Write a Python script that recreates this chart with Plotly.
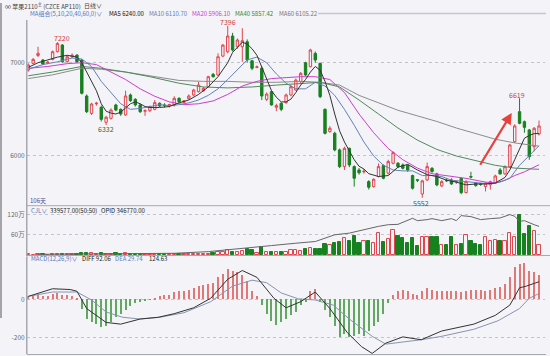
import plotly.graph_objects as go

# ---------------- data ----------------
days = list(range(106))
opens = [6921, 6993, 7078, 7029, 6995, 7036, 7118, 7189, 7011, 7064,
         7082, 7029, 6643, 6457, 6560, 6522, 6361, 6404, 6547, 6500,
         6440, 6654, 6607, 6547, 6480, 6486, 6500, 6565, 6547, 6540,
         6547, 6618, 6575, 6614, 6654, 6690, 6700, 6743, 6875, 6868,
         7071, 7118, 7286, 7171, 7171, 7225, 7021, 6950, 6940, 6607,
         6690, 6522, 6565, 6572, 6654, 6707, 6796, 7000, 6957, 7100,
         6993, 6500, 6261, 6243, 6065, 5886, 6082, 5886, 5850, 5830,
         5725, 5672, 5779, 5897, 5815, 5922, 5922, 5904, 5900, 5790,
         5745, 5593, 5743, 5868, 5808, 5679, 5740, 5743, 5720, 5761,
         5607, 5779, 5708, 5700, 5672, 5690, 5708, 5850, 5808, 5886,
         6154, 6475, 6368, 6279, 6100, 6236]
highs = [6993, 7050, 7171, 7040, 7020, 7130, 7220, 7200, 7080, 7100,
         7090, 7040, 6660, 6570, 6580, 6540, 6430, 6510, 6560, 6510,
         6700, 6670, 6620, 6560, 6500, 6540, 6600, 6575, 6565, 6560,
         6640, 6630, 6600, 6660, 6720, 6796, 6740, 6860, 6890, 7100,
         7200, 7396, 7320, 7260, 7370, 7250, 7030, 6970, 6960, 6680,
         6700, 6560, 6575, 6670, 6760, 6830, 6900, 7010, 7150, 7120,
         7000, 6510, 6320, 6260, 6080, 6100, 6090, 5900, 5870, 5860,
         5740, 5760, 5920, 5910, 5960, 6050, 5935, 5920, 5910, 5800,
         5750, 5745, 5930, 5880, 5820, 5740, 5760, 5760, 5740, 5770,
         5740, 5830, 5720, 5710, 5720, 5735, 5800, 5870, 5900, 6130,
         6340, 6619, 6380, 6290, 6310, 6380]
lows = [6904, 6985, 7060, 6975, 6985, 7025, 7110, 7000, 7000, 7050,
        7000, 6660, 6460, 6440, 6540, 6370, 6332, 6390, 6480, 6430,
        6430, 6580, 6530, 6460, 6430, 6470, 6490, 6525, 6520, 6520,
        6530, 6570, 6565, 6605, 6640, 6680, 6690, 6735, 6840, 6860,
        7060, 7100, 7120, 7150, 7010, 7000, 6920, 6940, 6600, 6590,
        6540, 6480, 6480, 6560, 6640, 6700, 6780, 6860, 6950, 7000,
        6620, 6230, 6250, 6050, 5870, 5850, 5880, 5672, 5800, 5810,
        5640, 5660, 5770, 5750, 5800, 5910, 5870, 5855, 5830, 5640,
        5720, 5552, 5730, 5820, 5675, 5665, 5720, 5690, 5700, 5590,
        5600, 5760, 5670, 5680, 5620, 5640, 5700, 5800, 5800, 5880,
        6140, 6340, 6250, 5960, 6050, 6220]
closes = [6975, 7036, 7100, 6986, 7005, 7118, 7207, 7011, 7064, 7080,
          7011, 6672, 6475, 6557, 6565, 6393, 6415, 6493, 6493, 6450,
          6643, 6593, 6547, 6475, 6486, 6529, 6572, 6536, 6540, 6550,
          6618, 6582, 6590, 6643, 6707, 6761, 6725, 6850, 6850, 7064,
          7189, 7286, 7136, 7243, 7236, 7029, 6940, 6955, 6643, 6664,
          6547, 6540, 6500, 6654, 6743, 6814, 6886, 6868, 7136, 7029,
          6636, 6243, 6297, 6065, 5886, 6082, 5904, 5761, 5820, 5836,
          5665, 5750, 5886, 5761, 5940, 6036, 5886, 5868, 5850, 5654,
          5740, 5733, 5886, 5833, 5690, 5725, 5735, 5700, 5725, 5607,
          5725, 5775, 5683, 5695, 5708, 5725, 5786, 5808, 5886, 6118,
          6322, 6350, 6307, 5993, 6297, 6322]

# moving averages (sparse points)
ma5_x = [0, 2, 4, 6, 8, 10, 11, 12, 13, 14, 15, 16, 17, 18, 19, 20, 21, 22, 23, 24, 25, 27, 29, 31,
         33, 35, 37, 39, 41, 42, 43, 44, 45, 46, 47, 48, 49, 50, 51, 52, 53, 54, 55, 56, 57, 58, 59,
         60, 61, 62, 63, 64, 65, 66, 67, 68, 69, 70, 72, 74, 76, 78, 80, 82, 84, 86, 88, 90, 92, 94,
         96, 98, 99, 100, 101, 102, 103, 104, 105]
ma5_y = [6950, 7000, 7030, 7060, 7080, 7060, 7000, 6900, 6800, 6700, 6560, 6480, 6460, 6450, 6470,
         6520, 6560, 6580, 6560, 6530, 6520, 6520, 6530, 6570, 6600, 6660, 6740, 6850, 7000, 7110,
         7170, 7220, 7200, 7150, 7080, 6960, 6840, 6700, 6630, 6580, 6580, 6610, 6680, 6760, 6820,
         6900, 6960, 6920, 6800, 6650, 6450, 6270, 6150, 6060, 5960, 5890, 5860, 5810, 5780, 5790,
         5880, 5910, 5850, 5800, 5780, 5740, 5720, 5690, 5700, 5700, 5710, 5770, 5850, 5960, 6080,
         6190, 6220, 6240, 6240]
ma10_x = [0, 3, 6, 9, 11, 13, 15, 17, 19, 21, 23, 25, 27, 29, 31, 33, 35, 37, 39, 41, 43, 45, 47,
          49, 51, 53, 55, 57, 59, 61, 63, 65, 67, 69, 71, 73, 75, 77, 79, 81, 83, 85, 87, 89, 91,
          93, 95, 97, 99, 101, 103, 105]
ma10_y = [6930, 6980, 7010, 7050, 7040, 6960, 6800, 6680, 6560, 6500, 6510, 6530, 6550, 6540,
          6550, 6570, 6600, 6650, 6720, 6820, 6930, 7030, 7060, 7000, 6880, 6780, 6720, 6720, 6790,
          6750, 6650, 6500, 6330, 6150, 6000, 5900, 5850, 5840, 5840, 5790, 5790, 5780, 5740, 5730,
          5720, 5710, 5700, 5720, 5760, 5900, 6000, 6110]
ma20_x = [0, 4, 8, 11, 14, 17, 20, 23, 26, 29, 32, 35, 38, 41, 44, 47, 50, 53, 56, 59, 60, 62, 65,
          68, 71, 74, 77, 80, 83, 86, 90, 94, 96, 98, 100, 102, 104, 105]
ma20_y = [6940, 6960, 6990, 7000, 6980, 6900, 6820, 6720, 6640, 6580, 6550, 6560, 6590, 6660,
          6750, 6800, 6830, 6840, 6850, 6850, 6840, 6820, 6680, 6450, 6250, 6080, 5960, 5870, 5810,
          5790, 5760, 5720, 5710, 5740, 5790, 5830, 5880, 5906]
ma40_x = [0, 5, 11, 15, 20, 25, 31, 36, 41, 46, 51, 56, 60, 64, 68, 72, 76, 80, 84, 88, 92, 96,
          100, 103, 105]
ma40_y = [6860, 6900, 6960, 6940, 6900, 6850, 6780, 6740, 6730, 6740, 6760, 6780, 6790, 6740,
          6600, 6450, 6300, 6170, 6070, 6000, 5950, 5900, 5870, 5860, 5857]
ma60_x = [0, 5, 11, 15, 20, 25, 31, 36, 41, 46, 51, 56, 60, 64, 68, 72, 76, 80, 84, 88, 92, 96,
          100, 103, 105]
ma60_y = [6830, 6870, 6940, 6930, 6900, 6860, 6810, 6800, 6800, 6790, 6790, 6800, 6790, 6760,
          6650, 6570, 6490, 6430, 6370, 6300, 6240, 6180, 6140, 6115, 6105]

# volume (万手) and open interest (万)
volume = [2, 1, 3, 2, 1, 2, 3, 4, 3, 2, 3, 7, 6, 5, 4, 5, 3, 4, 5, 4,
          5, 4, 3, 4, 3, 2, 3, 3, 2, 3, 3, 2, 2, 3, 3, 4, 3, 4, 5, 10,
          9, 15, 10, 10, 13, 17, 15, 7, 23, 10, 10, 10, 10, 8, 15, 15, 13, 17, 20, 17,
          17, 33, 30, 35, 38, 50, 42, 55, 35, 43, 43, 35, 65, 40, 47, 75, 57, 50, 35, 50,
          28, 53, 52, 53, 53, 29, 30, 53, 29, 32, 58, 41, 32, 29, 53, 41, 44, 41, 41, 66,
          53, 120, 61, 86, 70, 29]
oi_x = [2, 10, 20, 30, 37, 41, 45, 50, 55, 59, 61, 63, 66, 68, 70, 72, 74, 76, 79, 80, 82, 83,
        85, 87, 88, 89, 91, 93, 95, 97, 99, 100, 101, 102, 104, 105]
oi_y = [2, 3, 4, 5, 10, 15, 22, 28, 35, 40, 50, 60, 65, 72, 80, 85, 90, 91, 109, 102, 105, 108,
        102, 108, 102, 117, 114, 105, 108, 110, 120, 115, 100, 102, 90, 85]

# MACD
macd_hist = [15, 15, 20, 15, 18, 27, 33, 24, 20, 15, 9, -49, -104, -122, -131, -145, -140, -122,
             -95, -76, -58, -35, -22, -13, -9, -4, 5, 15, 20, 24, 38, 42, 45, 51, 60, 69, 75, 82,
             87, 115, 133, 160, 147, 142, 129, 96, 42, 15, -31, -76, -113, -135, -122, -104, -85,
             -67, -31, -13, 45, 56, -13, -58, -95, -140, -200, -185, -200, -195, -185, -195, -167,
             -140, -122, -76, -22, 20, 45, 51, 45, 27, 20, 42, 60, 51, 45, 45, 45, 45, 45, 38, 45,
             51, 51, 51, 42, 51, 60, 64, 82, 115, 169, 187, 191, 151, 142, 125]
diff_x = [0, 5, 8.6, 10, 12, 16, 19, 23, 26.7, 30, 34, 37.5, 41, 44, 47, 50.5, 53, 56, 59, 62,
          65.6, 68.5, 70.7, 73.5, 77, 80.8, 85, 91.6, 96, 99, 101, 102.4, 105]
diff_y = [15, 55, 51, 42, -49, -122, -131, -104, -95, -76, -45, 5, 105, 151, 115, 5, -45, -13, 38,
          -49, -176, -249, -285, -231, -198, -213, -167, -131, -85, -31, 60, 69, 92]
dea_x = [0, 5, 10, 13, 16, 19.4, 23, 27, 32, 37.5, 42, 46, 49, 52, 55.5, 59, 62.7, 66, 70.7, 73.5,
         77, 80.8, 85, 91.6, 96.6, 101, 103, 105]
dea_y = [15, 38, 38, -4, -67, -95, -104, -95, -71, -13, 69, 100, 87, 33, 2, -4, -31, -104, -195,
         -236, -225, -213, -195, -158, -113, -49, 5, 30]

# ---------------- styling ----------------
W, H = 550, 356
BG = "#f3f3f8"
RED = "#e0464e"
GREEN = "#17801f"
FONT = "Noto Sans CJK SC, Noto Sans, sans-serif"
X0, X1 = 27, 545


def pxx(x):
    return x / W


def pxy(y):
    return 1 - y / H


inc = [c >= o for o, c in zip(opens, closes)]

fig = go.Figure()

fig.add_trace(go.Candlestick(
    x=days, open=opens, high=highs, low=lows, close=closes,
    xaxis="x", yaxis="y", whiskerwidth=0,
    increasing=dict(line=dict(color=RED, width=1), fillcolor=BG),
    decreasing=dict(line=dict(color=GREEN, width=1), fillcolor=GREEN),
    showlegend=False, hoverinfo="skip"))

for xs, ys, col in [(ma60_x, ma60_y, "#8c8c8c"), (ma40_x, ma40_y, "#4f8a5a"),
                    (ma20_x, ma20_y, "#cc3fcc"), (ma10_x, ma10_y, "#6680b4"),
                    (ma5_x, ma5_y, "#333333")]:
    fig.add_trace(go.Scatter(x=xs, y=ys, mode="lines", line=dict(color=col, width=1),
                             xaxis="x", yaxis="y", showlegend=False, hoverinfo="skip"))

# volume
fig.add_trace(go.Bar(
    x=days, y=[v * 10000 for v in volume], width=0.68, xaxis="x2", yaxis="y2",
    marker=dict(color=[BG if u else GREEN for u in inc],
                line=dict(color=[RED if u else GREEN for u in inc], width=1)),
    showlegend=False, hoverinfo="skip"))
fig.add_trace(go.Scatter(x=oi_x, y=[v * 10000 for v in oi_y], mode="lines",
                         line=dict(color="#666666", width=1), xaxis="x2", yaxis="y2",
                         showlegend=False, hoverinfo="skip"))

# MACD
fig.add_trace(go.Bar(
    x=days, y=macd_hist, width=0.22, xaxis="x3", yaxis="y3",
    marker=dict(color=["#e07878" if v >= 0 else "#62a862" for v in macd_hist], line=dict(width=0)),
    showlegend=False, hoverinfo="skip"))
fig.add_trace(go.Scatter(x=dea_x, y=dea_y, mode="lines", line=dict(color="#8894b0", width=1),
                         xaxis="x3", yaxis="y3", showlegend=False, hoverinfo="skip"))
fig.add_trace(go.Scatter(x=diff_x, y=diff_y, mode="lines", line=dict(color="#333333", width=1),
                         xaxis="x3", yaxis="y3", showlegend=False, hoverinfo="skip"))

xr = [(X0 - 28.3) / 4.864, (X1 - 28.3) / 4.864]
xcommon = dict(range=xr, domain=[pxx(X0), pxx(X1)], showgrid=False, zeroline=False,
               showticklabels=False, ticks="", showline=False, fixedrange=True)
ycommon = dict(showgrid=True, griddash="dot", gridcolor="#c4c4cc", gridwidth=1, zeroline=False,
               ticks="", showline=True, linecolor="#a8a8b0", linewidth=1,
               tickfont=dict(family=FONT, size=6.5, color="#6a6a6a"), fixedrange=True)

fig.update_layout(
    width=W, height=H, margin=dict(l=0, r=0, t=0, b=0),
    paper_bgcolor=BG, plot_bgcolor=BG, font=dict(family=FONT, size=7, color="#333"),
    bargap=0, barmode="overlay",
    xaxis=dict(**xcommon, anchor="y", rangeslider=dict(visible=False)),
    xaxis2=dict(**xcommon, anchor="y2", matches="x"),
    xaxis3=dict(**xcommon, anchor="y3", matches="x"),
    yaxis=dict(**ycommon, anchor="x", domain=[pxy(205.5), pxy(20)], range=[5469, 7458],
               tickvals=[6000, 7000], ticktext=["6000", "7000"]),
    yaxis2=dict(**ycommon, anchor="x2", domain=[pxy(255.5), pxy(206)],
                range=[-15000, 1455000], tickvals=[600000, 1200000], ticktext=["60万", "120万"]),
    yaxis3=dict(**ycommon, anchor="x3", domain=[pxy(354), pxy(257)], range=[-288, 222],
                tickvals=[-200, 0], ticktext=["-200", "0"]),
)

shapes = []
for y in [205.7, 255.5]:
    shapes.append(dict(type="line", xref="paper", yref="paper", x0=pxx(X0), x1=1,
                       y0=pxy(y), y1=pxy(y), line=dict(color="#a8a8b0", width=1)))
shapes.append(dict(type="line", xref="paper", yref="paper", x0=pxx(X0), x1=pxx(X0),
                   y0=pxy(354.5), y1=pxy(20), line=dict(color="#a8a8b0", width=1)))
shapes.append(dict(type="line", xref="paper", yref="paper", x0=pxx(X0), x1=pxx(X1 + 1),
                   y0=pxy(354.5), y1=pxy(354.5), line=dict(color="#a8a8b0", width=1)))
shapes.append(dict(type="line", xref="paper", yref="paper", x0=pxx(318), x1=pxx(546),
                   y0=pxy(13.5), y1=pxy(13.5), line=dict(color="#c6c6ce", width=1.5)))
shapes.append(dict(type="line", xref="paper", yref="paper", x0=pxx(1), x1=pxx(1),
                   y0=pxy(3), y1=pxy(318), line=dict(color="#8a8a90", width=1.5)))
fig.update_layout(shapes=shapes)

ann = []


def txt(x, y, s, color="#333", size=6, anchor="left"):
    ann.append(dict(x=pxx(x), y=pxy(y), xref="paper", yref="paper", text=s, showarrow=False,
                    xanchor=anchor, yanchor="middle",
                    font=dict(family=FONT, size=size, color=color)))


txt(3, 5.5, "∞ 苹果2110<sup>主</sup> (CZCE AP110)", "#444", 6)
txt(82, 5.5, "日线∨", "#444", 6)
txt(28, 14, "MA组合(5,10,20,40,60,0)∨", "#5a78b8", 6)
txt(107, 14, "MA5 6240.00", "#111", 6)
txt(147, 14, "MA10 6110.70", "#6680b4", 6)
txt(190, 14, "MA20 5906.10", "#cc3fcc", 6)
txt(233, 14, "MA40 5857.42", "#2f8a3a", 6)
txt(277, 14, "MA60 6105.22", "#777", 6)
txt(28, 200.5, "106天", "#4a4a8a", 6)
txt(29, 210.5, "CJL∨", "#5a78b8", 6)
txt(48, 210.5, "339577.00(50:50)", "#222", 6)
txt(99, 210.5, "OPID 346770.00", "#222", 6)
txt(29, 258.8, "MACD(12,26,9)∨", "#5a78b8", 6)
txt(80, 258.8, "DIFF 92.06", "#222", 6)
txt(113, 258.8, "DEA 29.74", "#6680b4", 6)
txt(147, 258.8, "124.63", "#222", 6)

# price markers
txt(62, 38, "7220", "#d23c3c", 7, "center")
txt(106, 129, "6332", "#2c6a48", 7, "center")
txt(228, 22, "7396", "#d23c3c", 7, "center")
txt(421, 203, "5552", "#2c6a48", 7, "center")
txt(517, 95, "6619", "#d23c3c", 7, "center")

ann.append(dict(x=99.4, y=6461, xref="x", yref="y", ax=92.5, ay=5871, axref="x", ayref="y",
                showarrow=True, arrowhead=2, arrowsize=1, arrowwidth=2.2, arrowcolor="#e8403a",
                text=" ", font=dict(size=6)))
fig.update_layout(annotations=ann)

fig.write_html("out.html", config={"displayModeBar": False},
               post_script="document.body.style.margin='0';")
